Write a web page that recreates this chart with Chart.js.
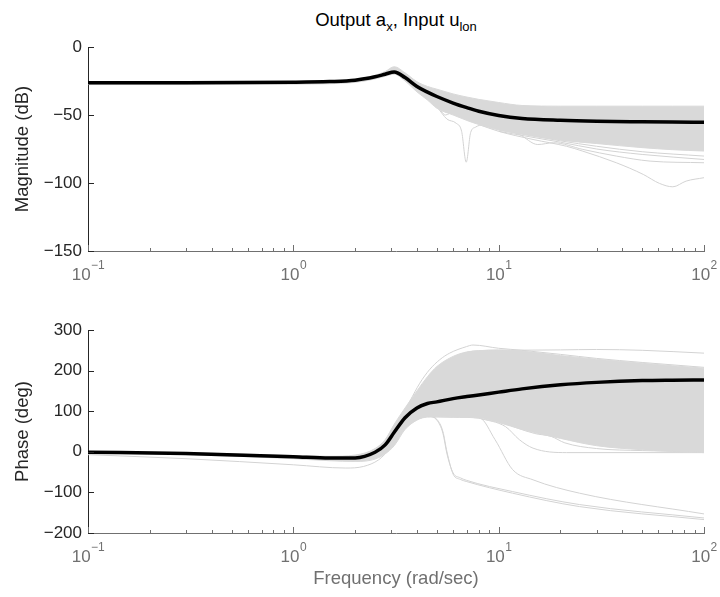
<!DOCTYPE html>
<html>
<head>
<meta charset="utf-8">
<script src="https://cdn.jsdelivr.net/npm/chart.js@4.4.0/dist/chart.umd.min.js"></script>
<style>
  html, body { margin: 0; padding: 0; background: #fff; }
  body { width: 720px; height: 597px; position: relative; overflow: hidden;
         font-family: "Liberation Sans", Arial, Helvetica, sans-serif; }
  #title { position: absolute; left: 88px; width: 616px; top: 11px; text-align: center;
           font-size: 18.5px; line-height: 18.5px; color: #000; white-space: nowrap; }
  #title sub { font-size: 13px; vertical-align: -5px; line-height: 0; }
  .box { position: absolute; left: 0; width: 720px; }
  #magBox { top: 0; height: 300px; }
  #phaseBox { top: 280px; height: 317px; }
</style>
</head>
<body>
<div id="title">Output a<sub>x</sub>, Input u<sub>lon</sub></div>
<div class="box" id="magBox"><canvas id="mag" width="720" height="300"></canvas></div>
<div class="box" id="phaseBox"><canvas id="phase" width="720" height="317"></canvas></div>
<script>
// Frequency grid (rad/sec) shared by the nominal response and the dispersion envelope
const freqBand = [0.1, 0.3, 1, 1.5, 2, 2.5, 2.8, 3.1, 3.5, 4, 4.5, 5, 6, 7, 8, 10, 13, 20, 30, 50, 70, 100];

// Magnitude (dB)
const magNominal = [-26.2, -26.2, -25.9, -25.4, -24.4, -21.9, -20, -18.3, -22.5, -29, -33.2, -36.4, -41.2, -44.6, -47.2, -50.3, -52.5, -53.9, -54.6, -55, -55.2, -55.3];
const magUpper   = [-25.9, -25.9, -25.6, -25, -23.6, -20.8, -18, -14.5, -19, -25.5, -29, -31, -34.5, -36.8, -38.5, -40.8, -43, -43.5, -43.5, -43.5, -43.5, -43.5];
const magLower   = [-27.6, -27.6, -27.3, -27, -26, -23.5, -21.5, -20, -25, -33, -39, -45, -50, -54, -57, -61, -64, -68.5, -71, -74, -75.5, -76.5];

// Magnitude responses that leave the main band
const magNotchFreq = [3.1, 4, 5, 5.6, 6.2, 6.6, 6.95, 7.3, 7.7, 8.5, 10, 20, 50, 100];
const magNotch     = [-18.5, -29, -44, -53, -56, -62, -84.7, -63, -59, -57, -60, -68, -73, -76];
const magDeepFreq  = [8, 10, 14.7, 21.4, 25.7, 37.4, 50.6, 60.7, 70.5, 81.8, 100];
const magDeep      = [-57, -62, -68, -73, -76.6, -85.1, -93.7, -100.3, -102.8, -98.6, -96.1];
const magTailFreq  = [4, 5, 5.5, 6, 7, 8, 10, 12.6, 15.5, 18.5, 25.7, 37.4, 54.6, 100];
const magTail1     = [-30, -42, -50, -48, -52, -56, -60, -64.3, -71.7, -70.4, -75.3, -80.2, -83.9, -85.1];
const magTail2Freq = [10, 20, 30, 50, 100];
const magTail2     = [-61, -69, -73, -77, -80.2];
const magTail3     = [-62, -70, -75, -79, -82.7];

// Phase (deg)
const phaseNominal = [-1, -4, -12, -15.5, -15, -1, 17, 48, 84, 108, 119, 123, 131, 136, 140, 147, 155, 165, 171, 175.5, 176.5, 177];
const phaseUpper   = [1, -2, -9, -11, -8, 8, 30, 68, 108, 150, 185, 210, 235, 246, 249, 251, 248, 237, 228, 218, 212, 206];
const phaseLower   = [-4, -7, -17, -22, -24, -18, -5, 15, 55, 78, 86, 87, 86, 85, 83, 72, 55, 33, 15, 5, 1, -2];

// Phase responses that leave the main band
const phLowFreq   = [0.1, 0.3, 1, 1.8, 2.2, 2.6, 3];
const phLow       = [-7, -17, -32, -40, -36, -20, 10];
const phDropAFreq = [3.5, 4, 4.6, 5, 5.35, 5.6, 6, 6.5, 6.95, 11.7, 24.8, 100];
const phDropA1    = [60, 80, 87, 80, 50, 0, -55, -68, -73, -102, -135, -167];
const phDropA2    = [60, 80, 87, 78, 46, -5, -52, -64, -70, -98, -130, -163];
const phDropBFreq = [4.5, 6, 8.08, 9.6, 11.7, 14.7, 24.8, 100];
const phDropB     = [86, 85, 83, 30, -44, -69, -102, -153];
const phDropCFreq = [8, 10.8, 12.6, 14.7, 21.4, 100];
const phDropC     = [83, 62, 30, 9, -2, -2];
const phDropDFreq = [10, 15, 18, 21, 30, 50, 100];
const phDropD     = [75, 45, 38, 22, 8, 3, 0];
const phUp1Freq   = [3.3, 3.7, 4.13, 4.6, 5.17, 5.77, 6.96, 7.5, 10, 13, 20, 30, 50, 100];
const phUp1       = [75, 125, 169, 202, 227, 243, 259, 263, 255, 250, 240, 230, 220, 208];
const phUp2Freq   = [5, 6, 7, 8, 10, 20, 30, 50, 100];
const phUp2       = [200, 232, 245, 249, 250, 251, 252, 250, 243];

// Axis ticks
const magTicks = [-150, -100, -50, 0];
const phaseTicks = [-200, -100, 0, 100, 200, 300];
const decadeTicks = [0.1, 1, 10, 100];
const decadeExponents = ['\u22121', '0', '1', '2'];

const GRAY = '#d9d9d9';
const LINE_GRAY = '#d3d3d3';
const FONT = '"Liberation Sans", Arial, Helvetica, sans-serif';
const X_COLOR = '#707070';
const Y_COLOR = '#262626';

function pts(xs, ys) { return xs.map((x, i) => ({ x: x, y: ys[i] })); }

function nominalSet(ys) {
  return { data: pts(freqBand, ys), borderColor: '#000', borderWidth: 3.5, fill: false };
}
function upperSet(ys) {
  return { data: pts(freqBand, ys), borderColor: GRAY, borderWidth: 1, fill: false };
}
function lowerSet(ys) {
  return { data: pts(freqBand, ys), borderColor: GRAY, borderWidth: 1, backgroundColor: GRAY, fill: 1 };
}
function strayLine(xs, ys) {
  return { data: pts(xs, ys), borderColor: LINE_GRAY, borderWidth: 1, fill: false };
}

// Log tick positions: 1..9 within each decade
const logTickValues = [];
[0.1, 1, 10].forEach(d => { for (let k = 1; k <= 9; k++) logTickValues.push(+(k * d).toPrecision(6)); });
logTickValues.push(100);

function isDecade(v) {
  const l = Math.log10(v);
  return Math.abs(l - Math.round(l)) < 1e-6;
}

// Inward tick marks and decade labels with superscript exponents
const axesDecor = {
  id: 'axesDecor',
  afterDraw(chart) {
    const ctx = chart.ctx, a = chart.chartArea, xs = chart.scales.x, ys = chart.scales.y;
    ctx.save();
    ctx.lineWidth = 1;
    ctx.strokeStyle = X_COLOR;
    xs.ticks.forEach(t => {
      const px = Math.round(xs.getPixelForValue(t.value)) + 0.5;
      const len = isDecade(t.value) ? 6 : 3;
      ctx.beginPath();
      ctx.moveTo(px, a.bottom);
      ctx.lineTo(px, a.bottom - len);
      ctx.stroke();
    });
    ctx.strokeStyle = Y_COLOR;
    ys.ticks.forEach(t => {
      const py = Math.round(ys.getPixelForValue(t.value)) + 0.5;
      ctx.beginPath();
      ctx.moveTo(a.left, py);
      ctx.lineTo(a.left + 6, py);
      ctx.stroke();
    });
    // decade labels
    ctx.fillStyle = X_COLOR;
    ctx.textBaseline = 'alphabetic';
    ctx.textAlign = 'left';
    decadeTicks.forEach((v, i) => {
      const px = xs.getPixelForValue(v);
      ctx.font = '17px ' + FONT;
      const wb = ctx.measureText('10').width;
      ctx.font = '12px ' + FONT;
      const we = ctx.measureText(decadeExponents[i]).width;
      const x0 = px - (wb + we) / 2;
      ctx.font = '17px ' + FONT;
      ctx.fillText('10', x0, a.bottom + 28.5);
      ctx.font = '12px ' + FONT;
      ctx.fillText(decadeExponents[i], x0 + wb + 0.5, a.bottom + 17.5);
    });
    ctx.restore();
  }
};

function makeOptions(cfg) {
  return {
    responsive: false,
    animation: false,
    events: [],
    layout: { padding: { left: 0, right: 16, top: cfg.padTop, bottom: 0 }, autoPadding: false },
    plugins: { legend: { display: false }, tooltip: { enabled: false }, filler: { propagate: false } },
    elements: { point: { radius: 0 }, line: { cubicInterpolationMode: 'monotone', borderJoinStyle: 'round' } },
    scales: {
      x: {
        type: 'logarithmic', position: 'bottom', min: 0.1, max: 100,
        afterBuildTicks: s => { s.ticks = logTickValues.map(v => ({ value: v, major: isDecade(v) })); },
        ticks: { display: false, autoSkip: false },
        grid: { display: false, drawTicks: false },
        border: { display: true, color: X_COLOR, width: 1 },
        title: cfg.xTitle ? {
          display: true, text: cfg.xTitle, color: X_COLOR,
          font: { family: FONT, size: 18.5 }, padding: { top: 0, bottom: 7 }
        } : { display: false },
        afterFit: s => { s.height = cfg.xHeight; }
      },
      y: {
        type: 'linear', min: cfg.yMin, max: cfg.yMax,
        afterBuildTicks: s => { s.ticks = cfg.yTicks.map(v => ({ value: v })); },
        ticks: {
          color: Y_COLOR, padding: 6, font: { family: FONT, size: 17 },
          callback: v => (v < 0 ? '\u2212' + Math.abs(v) : String(v))
        },
        grid: { display: false, drawTicks: false },
        border: { display: true, color: Y_COLOR, width: 1 },
        title: {
          display: true, text: cfg.yTitle, color: Y_COLOR,
          font: { family: FONT, size: 18.5 }, padding: { top: 12, bottom: 0 }
        },
        afterFit: s => { s.width = 88; }
      }
    }
  };
}

new Chart(document.getElementById('mag'), {
  type: 'line',
  data: {
    datasets: [
      nominalSet(magNominal),
      upperSet(magUpper),
      lowerSet(magLower),
      strayLine(magNotchFreq, magNotch),
      strayLine(magDeepFreq, magDeep),
      strayLine(magTailFreq, magTail1),
      strayLine(magTail2Freq, magTail2),
      strayLine(magTail2Freq, magTail3)
    ]
  },
  options: makeOptions({ padTop: 47, xHeight: 49, yMin: -150, yMax: 0, yTicks: magTicks, yTitle: 'Magnitude (dB)' }),
  plugins: [axesDecor]
});

new Chart(document.getElementById('phase'), {
  type: 'line',
  data: {
    datasets: [
      nominalSet(phaseNominal),
      upperSet(phaseUpper),
      lowerSet(phaseLower),
      strayLine(phLowFreq, phLow),
      strayLine(phDropAFreq, phDropA1),
      strayLine(phDropAFreq, phDropA2),
      strayLine(phDropBFreq, phDropB),
      strayLine(phDropCFreq, phDropC),
      strayLine(phDropDFreq, phDropD),
      strayLine(phUp1Freq, phUp1),
      strayLine(phUp2Freq, phUp2)
    ]
  },
  options: makeOptions({ padTop: 50, xHeight: 64, yMin: -200, yMax: 300, yTicks: phaseTicks, yTitle: 'Phase (deg)', xTitle: 'Frequency (rad/sec)' }),
  plugins: [axesDecor]
});
</script>
</body>
</html>
